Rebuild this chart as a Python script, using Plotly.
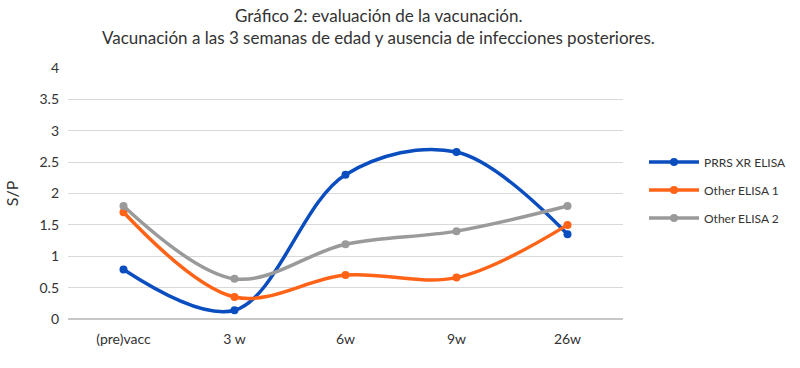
import plotly.graph_objects as go

categories = ["(pre)vacc", "3 w", "6w", "9w", "26w"]
prrs = [0.79, 0.14, 2.3, 2.66, 1.35]
other1 = [1.7, 0.35, 0.7, 0.66, 1.5]
other2 = [1.8, 0.64, 1.19, 1.4, 1.8]
series_names = ["PRRS XR ELISA", "Other ELISA 1", "Other ELISA 2"]
colors = ["#0A4DBF", "#FF6318", "#9A9A9A"]
FONT = "Lato, Open Sans, sans-serif"
title_lines = ["Gráfico 2: evaluación de la vacunación.",
               "Vacunación a las 3 semanas de edad y ausencia de infecciones posteriores."]

fig = go.Figure()
for name, vals, c in zip(series_names, [prrs, other1, other2], colors):
    fig.add_trace(go.Scatter(
        x=categories, y=vals, name=name, mode="lines+markers", legendgroup=name,
        line=dict(color=c, width=3.5, shape="spline", smoothing=1.0),
        marker=dict(size=8, color=c),
    ))

for i, t in enumerate(title_lines):
    fig.add_annotation(
        text=t, xref="paper", yref="paper", x=(378 - 68) / 555, y=1,
        xanchor="center", yanchor="middle", yshift=68 - 15 - 22 * i,
        showarrow=False, font=dict(family=FONT, size=17, color="#333333"),
    )

fig.update_layout(
    width=800, height=368,
    margin=dict(l=68, r=177, t=68, b=49, autoexpand=False),
    paper_bgcolor="white", plot_bgcolor="white",
    font=dict(family=FONT, size=14, color="#404040"),
    legend=dict(
        xref="container", x=0.805, xanchor="left", y=0.514, yanchor="middle",
        font=dict(family=FONT, size=12, color="#333333"),
        tracegroupgap=9, itemwidth=50,
    ),
    showlegend=True,
)
fig.update_xaxes(
    type="category", showgrid=False, showline=False, zeroline=False,
    ticks="", tickfont=dict(size=14, color="#333333"), ticklabelstandoff=10,
    range=[-0.5, 4.5],
)
fig.update_yaxes(
    range=[0, 4.0], dtick=0.5, showgrid=True, gridcolor="#D9D9D9", gridwidth=1,
    zeroline=True, zerolinecolor="#C8C8C8", zerolinewidth=1.5,
    showline=False, ticks="", tickfont=dict(size=14, color="#333333"),
    ticklabelstandoff=8,
    title=dict(text="S/P", font=dict(size=16, color="#333333"), standoff=16),
)

fig.write_html("out.html", config={"displayModeBar": False},
               post_script="document.body.style.margin='0';")
